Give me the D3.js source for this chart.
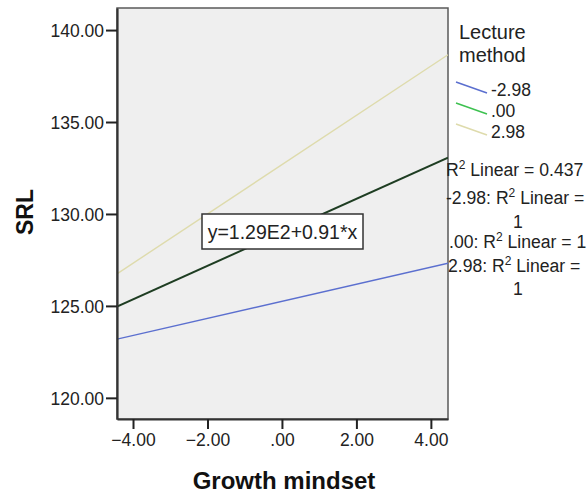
<!DOCTYPE html>
<html>
<head>
<meta charset="utf-8">
<script src="https://cdn.jsdelivr.net/npm/d3@7"></script>
<style>
  html, body { margin: 0; padding: 0; background: #ffffff; }
  svg { display: block; font-family: "Liberation Sans", Arial, sans-serif; }
</style>
</head>
<body>
<svg id="chart" width="587" height="493"></svg>
<script>
// Moderator levels (Lecture method) and their simple-slope lines
const moderatorLabels = ["-2.98", ".00", "2.98"];
const intercepts = [125.25, 129.0, 132.68];
const slopes = [0.465, 0.91, 1.34];
const lineColors = ["#5b6fcf", "#1e3d22", "#dedbac"];
const legendColors = ["#5b6fcf", "#3dc150", "#dedbac"];

// Axis ticks
const xTicks = [-4, -2, 0, 2, 4];
const yTicks = [120, 125, 130, 135, 140];
const xDomain = [-4.43, 4.46];
const yDomain = [118.85, 141.2];

// Fit statistics shown beside the plot
const fitEquation = "y=1.29E2+0.91*x";
const fitLines = [
  { pre: "", post: " Linear = 0.437", x: 446, y: 176 },
  { pre: "-2.98: ", post: " Linear =", x: 446, y: 204 },
  { pre: ".00: ", post: " Linear = 1", x: 449, y: 248 },
  { pre: "2.98: ", post: " Linear =", x: 448, y: 272 }
];

const svg = d3.select("#chart");
const plot = { left: 117, right: 448, top: 8, bottom: 419 };

const x = d3.scaleLinear().domain(xDomain).range([plot.left, plot.right]);
const y = d3.scaleLinear().domain(yDomain).range([plot.bottom, plot.top]);

const fmt = v => {
  if (v === 0) return ".00";
  return d3.format(".2f")(v);
};

// plot background
svg.append("rect")
  .attr("x", plot.left).attr("y", plot.top)
  .attr("width", plot.right - plot.left).attr("height", plot.bottom - plot.top)
  .attr("fill", "#efefef")
  .attr("stroke", "#5a5a5a").attr("stroke-width", 1.5);

// regression lines, clipped to the plot area
svg.append("clipPath").attr("id", "clip")
  .append("rect")
  .attr("x", plot.left).attr("y", plot.top)
  .attr("width", plot.right - plot.left).attr("height", plot.bottom - plot.top);

const lineGen = d3.line().x(d => x(d[0])).y(d => y(d[1]));
const linesG = svg.append("g").attr("clip-path", "url(#clip)");
// draw order: tan, blue, then dark line on top
[2, 0, 1].forEach(i => {
  const pts = xDomain.map(v => [v, intercepts[i] + slopes[i] * v]);
  linesG.append("path")
    .datum(pts)
    .attr("d", lineGen)
    .attr("fill", "none")
    .attr("stroke", lineColors[i])
    .attr("stroke-width", i === 1 ? 2 : 1.4);
});

// y axis
const yAxis = svg.append("g")
  .attr("transform", `translate(${plot.left},0)`)
  .call(d3.axisLeft(y).tickValues(yTicks).tickFormat(fmt).tickSize(11).tickSizeOuter(0));
yAxis.select(".domain").attr("stroke", "#333").attr("stroke-width", 2.2);
yAxis.selectAll(".tick line").attr("stroke", "#222").attr("stroke-width", 2);
yAxis.selectAll(".tick text")
  .attr("x", -13).attr("dy", "0.36em")
  .attr("fill", "#222").style("font-size", "17.5px")
  .style("font-family", "'Liberation Sans', Arial, sans-serif");

// x axis
const xAxis = svg.append("g")
  .attr("transform", `translate(0,${plot.bottom})`)
  .call(d3.axisBottom(x).tickValues(xTicks).tickFormat(fmt).tickSize(10).tickSizeOuter(0));
xAxis.select(".domain").attr("stroke", "#333").attr("stroke-width", 2.2);
xAxis.selectAll(".tick line").attr("stroke", "#222").attr("stroke-width", 2);
xAxis.selectAll(".tick text")
  .attr("y", 15).attr("dy", "0.71em")
  .attr("fill", "#222").style("font-size", "17.5px")
  .style("font-family", "'Liberation Sans', Arial, sans-serif");

// axis titles
svg.append("text")
  .attr("x", 284).attr("y", 489)
  .attr("text-anchor", "middle")
  .attr("font-weight", "bold").attr("font-size", 24)
  .attr("fill", "#111")
  .text("Growth mindset");

svg.append("text")
  .attr("transform", `translate(33,212) rotate(-90)`)
  .attr("text-anchor", "middle")
  .attr("font-weight", "bold").attr("font-size", 23)
  .attr("fill", "#111")
  .text("SRL");

// equation box on the fitted line
const eqG = svg.append("g");
eqG.append("rect")
  .attr("x", 202).attr("y", 214).attr("width", 161).attr("height", 35)
  .attr("fill", "#ffffff").attr("stroke", "#333").attr("stroke-width", 1.5);
eqG.append("text")
  .attr("x", 282.5).attr("y", 238.5)
  .attr("text-anchor", "middle")
  .attr("font-size", 19.5).attr("fill", "#222")
  .text(fitEquation);

// legend
const leg = svg.append("g");
leg.append("text").attr("x", 459).attr("y", 39).attr("font-size", 20).attr("fill", "#222").text("Lecture");
leg.append("text").attr("x", 459).attr("y", 62).attr("font-size", 20).attr("fill", "#222").text("method");
moderatorLabels.forEach((lab, i) => {
  const yy = 88 + i * 21;
  leg.append("line")
    .attr("x1", 456).attr("y1", yy - 6).attr("x2", 487).attr("y2", yy + 5)
    .attr("stroke", legendColors[i]).attr("stroke-width", 1.5);
  leg.append("text")
    .attr("x", 491).attr("y", yy + 8)
    .attr("font-size", 17.5).attr("fill", "#222").text(lab);
});

// R² annotations
const rG = svg.append("g").attr("font-size", 17.6).attr("fill", "#222");
fitLines.forEach(f => {
  const t = rG.append("text").attr("x", f.x).attr("y", f.y);
  t.append("tspan").text(f.pre + "R");
  t.append("tspan").attr("dy", -7).attr("font-size", 12).text("2");
  t.append("tspan").attr("dy", 7).text(f.post);
});
rG.append("text").attr("x", 518).attr("y", 228).attr("text-anchor", "middle").text("1");
rG.append("text").attr("x", 518).attr("y", 295).attr("text-anchor", "middle").text("1");
</script>
</body>
</html>
